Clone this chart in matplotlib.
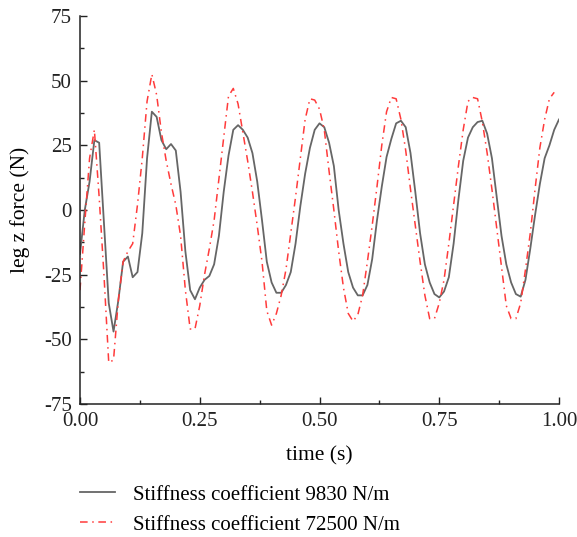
import numpy as np
import matplotlib
matplotlib.use("Agg")
import matplotlib.pyplot as plt
from matplotlib.ticker import MultipleLocator, FormatStrFormatter

plt.rcParams['font.family'] = ['Liberation Serif', 'DejaVu Serif']
plt.rcParams['axes.unicode_minus'] = False

# time samples (s)
t = np.round(np.arange(0, 101) * 0.01, 2)

# leg z force (N), stiffness 9830 N/m
f_9830 = [-17, 0, 11, 27, 26, -5, -36, -47, -35, -20,
          -18, -26, -24, -9, 20, 38, 36, 27, 23.5, 25.5,
          23, 7, -16, -31, -34.5, -30, -27, -25.5, -21, -10,
          7, 21, 31, 32.8, 31, 28, 22, 11, -4, -20,
          -28, -32, -32, -29, -24, -13, 1.5, 14, 24, 31,
          33.5, 32, 26, 17, 0, -13, -24, -30, -33, -33,
          -29, -19, -4, 9, 20.5, 27.5, 33.5, 34.5, 32, 22,
          7, -9, -21, -28, -32.5, -33.8, -31.5, -26, -13, 4,
          19, 28, 32, 34, 34.5, 29.5, 20, 5, -10, -21,
          -28, -32.5, -33.5, -27, -15, -2, 10, 20, 25, 31,
          35]

# leg z force (N), stiffness 72500 N/m
f_72500 = [-31, -5, 20, 31, 5, -25, -59, -58, -35, -20,
           -16, -13, 2, 20, 42, 52.5, 44.5, 30, 19, 10,
           2, -10, -31, -46, -46, -37, -25, -15, -4, 12,
           28, 44, 47, 41, 30, 19, 7, -6, -20, -39,
           -44.5, -40, -33, -23, -9, 5, 20, 35, 43, 42.5,
           39, 31, 15, 0, -16, -30, -40, -43, -40.5, -33,
           -20, -6, 9, 25, 38, 43.5, 43, 35, 23, 8,
           -6, -20, -33, -42, -42, -36, -27, -13, 2, 17,
           31, 42, 43.5, 43, 34, 22, 8, -7, -22, -37,
           -42, -42, -36, -23, -9, 8, 24, 35, 43, 45.5]

labels = ["Stiffness coefficient 9830 N/m", "Stiffness coefficient 72500 N/m"]

fig = plt.figure(figsize=(5.77, 5.37), dpi=100)
ax = fig.add_axes([80/577, 1 - 404/537, 479/577, 388/537])

ax.plot(t, f_9830, color="#666666", lw=1.3, label=labels[0])
ax.plot(t[:len(f_72500)], f_72500, color="#ff3b3b", lw=1.1,
        dashes=(5, 3, 1, 3), label=labels[1])

ax.set_xlim(0, 1)
ax.set_ylim(-75, 75)
ax.xaxis.set_major_locator(MultipleLocator(0.25))
ax.xaxis.set_minor_locator(MultipleLocator(0.125))
ax.yaxis.set_major_locator(MultipleLocator(25))
ax.yaxis.set_minor_locator(MultipleLocator(12.5))
ax.xaxis.set_major_formatter(FormatStrFormatter("%.2f"))
ax.tick_params(which="both", direction="in", labelsize=15, width=1, colors="#222222")
ax.tick_params(which="major", length=5)
ax.tick_params(which="minor", length=3)
ax.tick_params(axis="x", pad=6)
ax.tick_params(axis="y", pad=6)
ax.spines["top"].set_visible(False)
ax.spines["right"].set_visible(False)
for s in ("left", "bottom"):
    ax.spines[s].set_linewidth(1.1)
    ax.spines[s].set_color("#222222")

ax.set_xlabel("time (s)", fontsize=15.5, labelpad=11)
ax.set_ylabel("leg z force (N)", fontsize=15.5, labelpad=10)

fig.legend(loc="upper left", bbox_to_anchor=(80/577, 1 - 485/537), frameon=False,
           fontsize=15, handlelength=1.7, handletextpad=0.85, labelspacing=0.5,
           borderpad=0, borderaxespad=0)

fig.savefig("out.png", dpi=100)
